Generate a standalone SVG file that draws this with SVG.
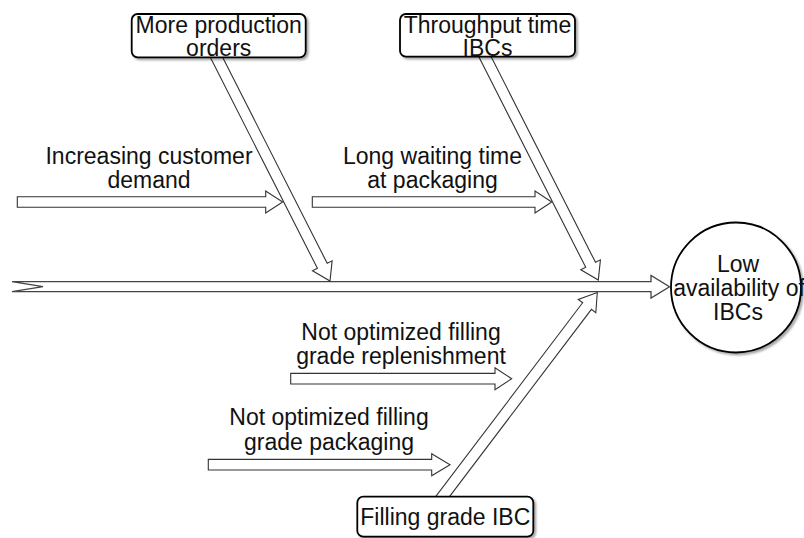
<svg xmlns="http://www.w3.org/2000/svg" width="804" height="538" viewBox="0 0 804 538">
  <defs>
    <filter id="shadow" x="-10%" y="-10%" width="130%" height="140%">
      <feDropShadow dx="2" dy="2" stdDeviation="1.2" flood-color="#000" flood-opacity="0.35"/>
    </filter>
    <style>
      .arrow { fill: #fff; stroke: #333; stroke-width: 1.1; stroke-linejoin: miter; }
      .spine { fill: #fff; stroke: #444; stroke-width: 1.3; }
      .box { fill: #fff; stroke: #000; stroke-width: 1.8; filter: url(#shadow); }
      .label { font-family: "Liberation Sans", Arial, sans-serif; font-size: 23px; fill: #111; text-anchor: middle; }
    </style>
  </defs>
  <rect width="804" height="538" fill="#fff"/>

  <!-- connectors: spine, main bones and sub-causes -->
  <g id="connectors">
    <polygon class="spine" points="12,281.7 651,281.7 651,275.5 669.5,286.7 651,298 651,291.7 12,291.7 43,286.7"/>
    <polygon class="arrow" points="215.77,43.8 327.21,263.35 332.12,260.86 330,281 312.5,270.82 317.41,268.33 205.97,48.8"/>
    <polygon class="arrow" points="484.57,43.79 595.51,262.35 600.42,259.86 598.3,280 580.8,269.82 585.71,267.33 474.77,48.77"/>
    <polygon class="arrow" points="439.63,509.58 591.41,309.37 595.8,312.7 597.3,292.5 578.26,299.4 582.65,302.73 430.87,502.94"/>
    <polygon class="arrow" points="17.3,196.7 265.7,196.7 265.7,191 282.7,202 265.7,213 265.7,207.3 17.3,207.3"/>
    <polygon class="arrow" points="312.3,196.7 535,196.7 535,191 551.7,202 535,213 535,207.3 312.3,207.3"/>
    <polygon class="arrow" points="290.7,373.4 495,373.4 495,367.7 511.7,378.7 495,389.7 495,384 290.7,384"/>
    <polygon class="arrow" points="208.3,459.4 431.7,459.4 431.7,453.7 450,464.7 431.7,475.7 431.7,470 208.3,470"/>
  </g>

  <!-- cause labels along the bones -->
  <g id="cause-demand">
    <text class="label" x="149" y="164">Increasing customer</text>
    <text class="label" x="149" y="188">demand</text>
  </g>
  <g id="cause-waiting">
    <text class="label" x="432.5" y="164">Long waiting time</text>
    <text class="label" x="432.5" y="188">at packaging</text>
  </g>
  <g id="cause-replenishment">
    <text class="label" x="401" y="339.5">Not optimized filling</text>
    <text class="label" x="401" y="364">grade replenishment</text>
  </g>
  <g id="cause-packaging">
    <text class="label" x="329" y="425">Not optimized filling</text>
    <text class="label" x="329" y="450">grade packaging</text>
  </g>

  <!-- category boxes -->
  <g id="node-production-orders">
    <rect class="box" x="131.7" y="14" width="174" height="43.3" rx="6"/>
    <text class="label" x="218.7" y="32.5">More production</text>
    <text class="label" x="218.7" y="56">orders</text>
  </g>
  <g id="node-throughput">
    <rect class="box" x="400" y="14" width="175" height="42.7" rx="6"/>
    <text class="label" x="487.5" y="32.5">Throughput time</text>
    <text class="label" x="487.5" y="56">IBCs</text>
  </g>
  <g id="node-filling-grade">
    <rect class="box" x="357.3" y="496.7" width="176" height="40" rx="6"/>
    <text class="label" x="445.3" y="525">Filling grade IBC</text>
  </g>

  <!-- effect -->
  <g id="node-effect">
    <circle class="box" cx="736" cy="287.5" r="65"/>
    <text class="label" x="738" y="271.5">Low</text>
    <text class="label" x="739" y="295.5">availability of</text>
    <text class="label" x="738" y="319.5">IBCs</text>
  </g>
</svg>
